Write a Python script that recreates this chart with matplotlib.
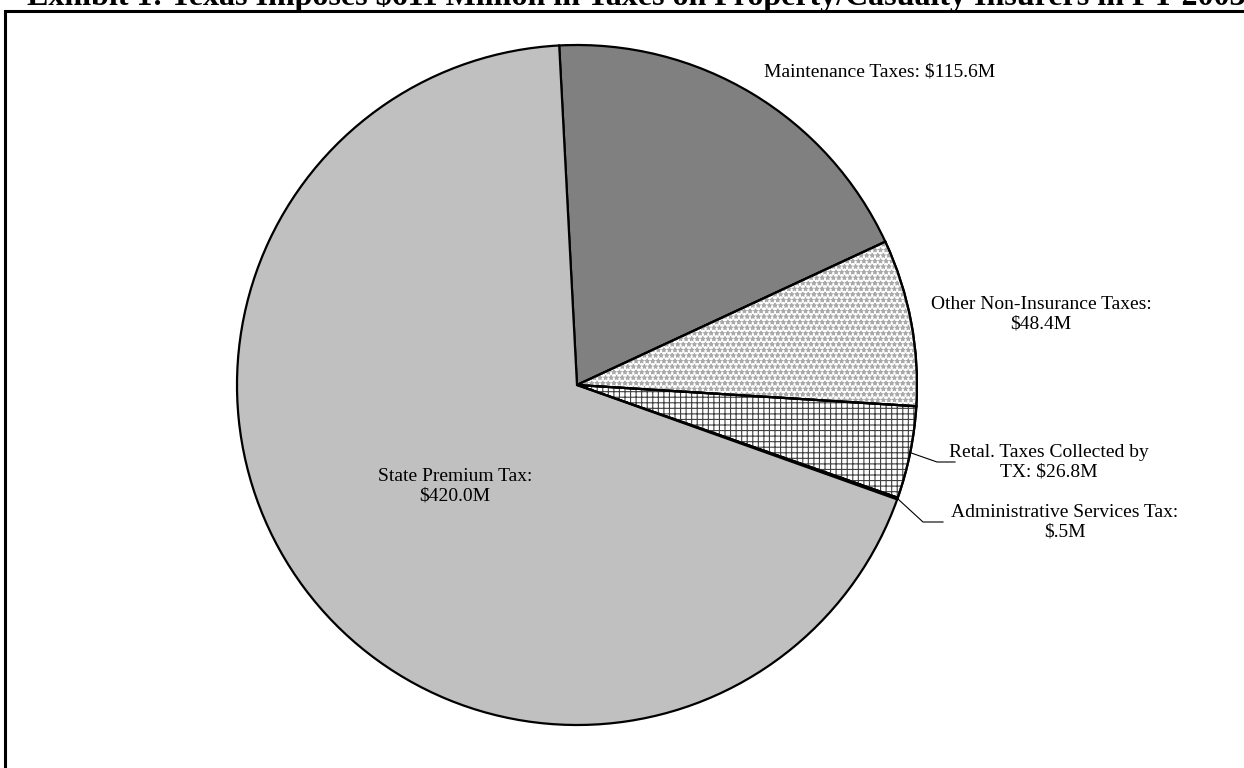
import numpy as np
import matplotlib.pyplot as plt
from matplotlib.patches import Wedge, Rectangle

# slices, clockwise from the top
labels = ["Maintenance Taxes: $115.6M",
          "Other Non-Insurance Taxes:\n$48.4M",
          "Retal. Taxes Collected by\nTX: $26.8M",
          "Administrative Services Tax:\n$.5M",
          "State Premium Tax:\n$420.0M"]
values = [115.6, 48.4, 26.8, 0.5, 420.0]
fills = ["#808080", "white", "white", "white", "#C0C0C0"]
hatches = [None, "***", "+++", None, None]
hatch_colors = [None, "#AAAAAA", "#404040", None, None]
title = "Exhibit 1: Texas Imposes $611 Million in Taxes on Property/Casualty Insurers in FY 2003"

W, H = 1244, 768
serif = "Liberation Serif"


def main():
    plt.rcParams["hatch.linewidth"] = 0.8
    fig = plt.figure(figsize=(W / 100, H / 100), dpi=100)
    ax = fig.add_axes([0, 0, 1, 1])

    # pie laid out in pixel units (y up)
    cx, cy, r = 577, H - 385, 340
    wedges, _ = ax.pie(values, colors=fills, startangle=93, counterclock=False,
                       radius=r, center=(cx, cy),
                       wedgeprops=dict(edgecolor="black", linewidth=1.6))
    ax.set_xlim(0, W)
    ax.set_ylim(0, H)
    ax.set_aspect("equal")
    ax.axis("off")

    # patterned fills on top of the white wedges, then the outline again
    for w, h, hc in zip(wedges, hatches, hatch_colors):
        if h is None:
            continue
        ax.add_patch(Wedge((cx, cy), r, w.theta1, w.theta2, facecolor="none",
                           edgecolor=hc, linewidth=0, hatch=h, zorder=w.zorder + 0.1))
        ax.add_patch(Wedge((cx, cy), r, w.theta1, w.theta2, fill=False,
                           edgecolor="black", linewidth=1.6, zorder=w.zorder + 0.2))

    # label positions (pixel coords from top-left)
    label_pos = [(880, 72), (1041, 314), (1049, 462), (1065, 522), (455, 486)]
    for lab, (x, y) in zip(labels, label_pos):
        ax.text(x, H - y, lab, ha="center", va="center", fontsize=14,
                family=serif, linespacing=1.2)

    # leader lines for the two thin slices
    leaders = {2: ((937, 462), (955, 462)), 3: ((923, 522), (943, 522))}
    for i, (elbow, end) in leaders.items():
        w = wedges[i]
        mid = np.deg2rad((w.theta1 + w.theta2) / 2)
        px, py = cx + r * np.cos(mid), cy + r * np.sin(mid)
        ax.plot([px, elbow[0], end[0]], [py, H - elbow[1], H - end[1]],
                color="black", linewidth=0.8)

    # title is cut off at the top edge of the picture
    fig.text(636 / W, 1 - 5 / H, title, ha="center", va="baseline", fontsize=23,
             fontweight="bold", family=serif)

    # page frame, runs off the right and bottom
    fig.add_artist(Rectangle((5 / W, -0.1), 1.2, (H - 11) / H + 0.1,
                             transform=fig.transFigure, fill=False,
                             linewidth=2.2, edgecolor="black"))

    fig.savefig("out.png", dpi=100)


if __name__ == "__main__":
    main()
